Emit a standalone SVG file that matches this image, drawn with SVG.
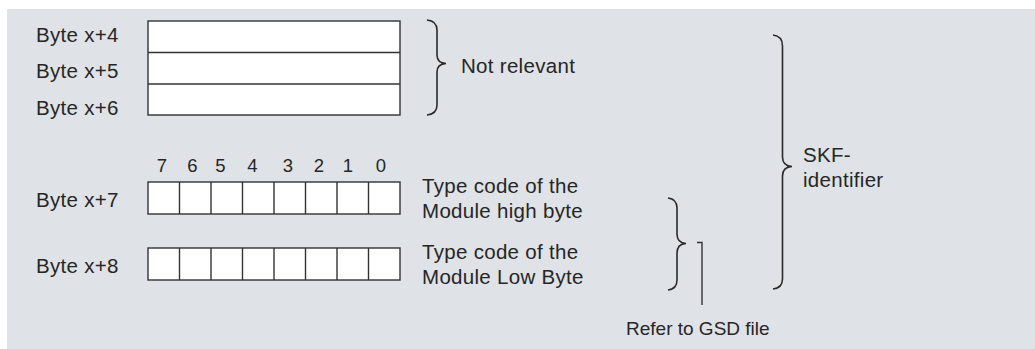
<svg xmlns="http://www.w3.org/2000/svg" width="1035" height="349" viewBox="0 0 1035 349">
<style>
text{font-family:"Liberation Sans",Arial,sans-serif;font-size:20.5px;letter-spacing:0.3px;fill:#262626}
.box{fill:#fff;stroke:#333;stroke-width:1.4}
.ln{fill:none;stroke:#333;stroke-width:1.4}
.br{fill:none;stroke:#2a2a2a;stroke-width:1.6}
.d{font-size:18.5px;letter-spacing:0;text-anchor:middle}
.s{font-size:19px;letter-spacing:0}
</style>
<rect x="0" y="0" width="1035" height="349" fill="#fff"/>
<rect x="7" y="9" width="1028" height="340" fill="#dfe2e6"/>
<g id="bytes4to6">
<rect class="box" x="148" y="21" width="252" height="94"/>
<line class="ln" x1="148" y1="52.5" x2="400" y2="52.5"/>
<line class="ln" x1="148" y1="84" x2="400" y2="84" stroke-width="2"/>
<text x="36" y="42">Byte x+4</text>
<text x="36" y="77.5">Byte x+5</text>
<text x="36" y="115">Byte x+6</text>
</g>
<g id="bits">
<text class="d" x="162" y="172">7</text>
<text class="d" x="192.5" y="172">6</text>
<text class="d" x="220.5" y="172">5</text>
<text class="d" x="252.5" y="172">4</text>
<text class="d" x="288" y="172">3</text>
<text class="d" x="319" y="172">2</text>
<text class="d" x="348" y="172">1</text>
<text class="d" x="381" y="172">0</text>
</g>
<g id="byte7">
<rect class="box" x="148" y="182" width="252" height="32"/>
<path class="ln" d="M179.5 182V214M211 182V214M242.5 182V214M274 182V214M305.5 182V214M337 182V214M368.5 182V214"/>
<text x="36" y="206.5">Byte x+7</text>
<text x="422" y="193">Type code of the</text>
<text x="422" y="218">Module high byte</text>
</g>
<g id="byte8">
<rect class="box" x="148" y="248" width="252" height="32"/>
<path class="ln" d="M179.5 248V280M211 248V280M242.5 248V280M274 248V280M305.5 248V280M337 248V280M368.5 248V280"/>
<text x="36" y="272.5">Byte x+8</text>
<text x="422" y="259">Type code of the</text>
<text x="422" y="284">Module Low Byte</text>
</g>
<g id="connectors">
<path class="br" d="M427 20Q437 21 437 30V55Q437 63 446 63.5Q437 64 437 72V105Q437 114 427 115"/>
<path class="br" d="M668 198Q677 199 677 208V234Q677 243 686 243.5Q677 244 677 253V280Q677 289 668 290"/>
<path class="ln" d="M697 242.5H702V305"/>
<path class="br" d="M773 35Q782.5 36 782.5 46V157Q782.5 166 792 166.5Q782.5 167 782.5 176V279Q782.5 288 773 289"/>
</g>
<g id="labels">
<text x="461" y="73">Not relevant</text>
<text x="803" y="162">SKF-</text>
<text x="803" y="187">identifier</text>
<text class="s" x="626" y="335">Refer to GSD file</text>
</g>
</svg>
